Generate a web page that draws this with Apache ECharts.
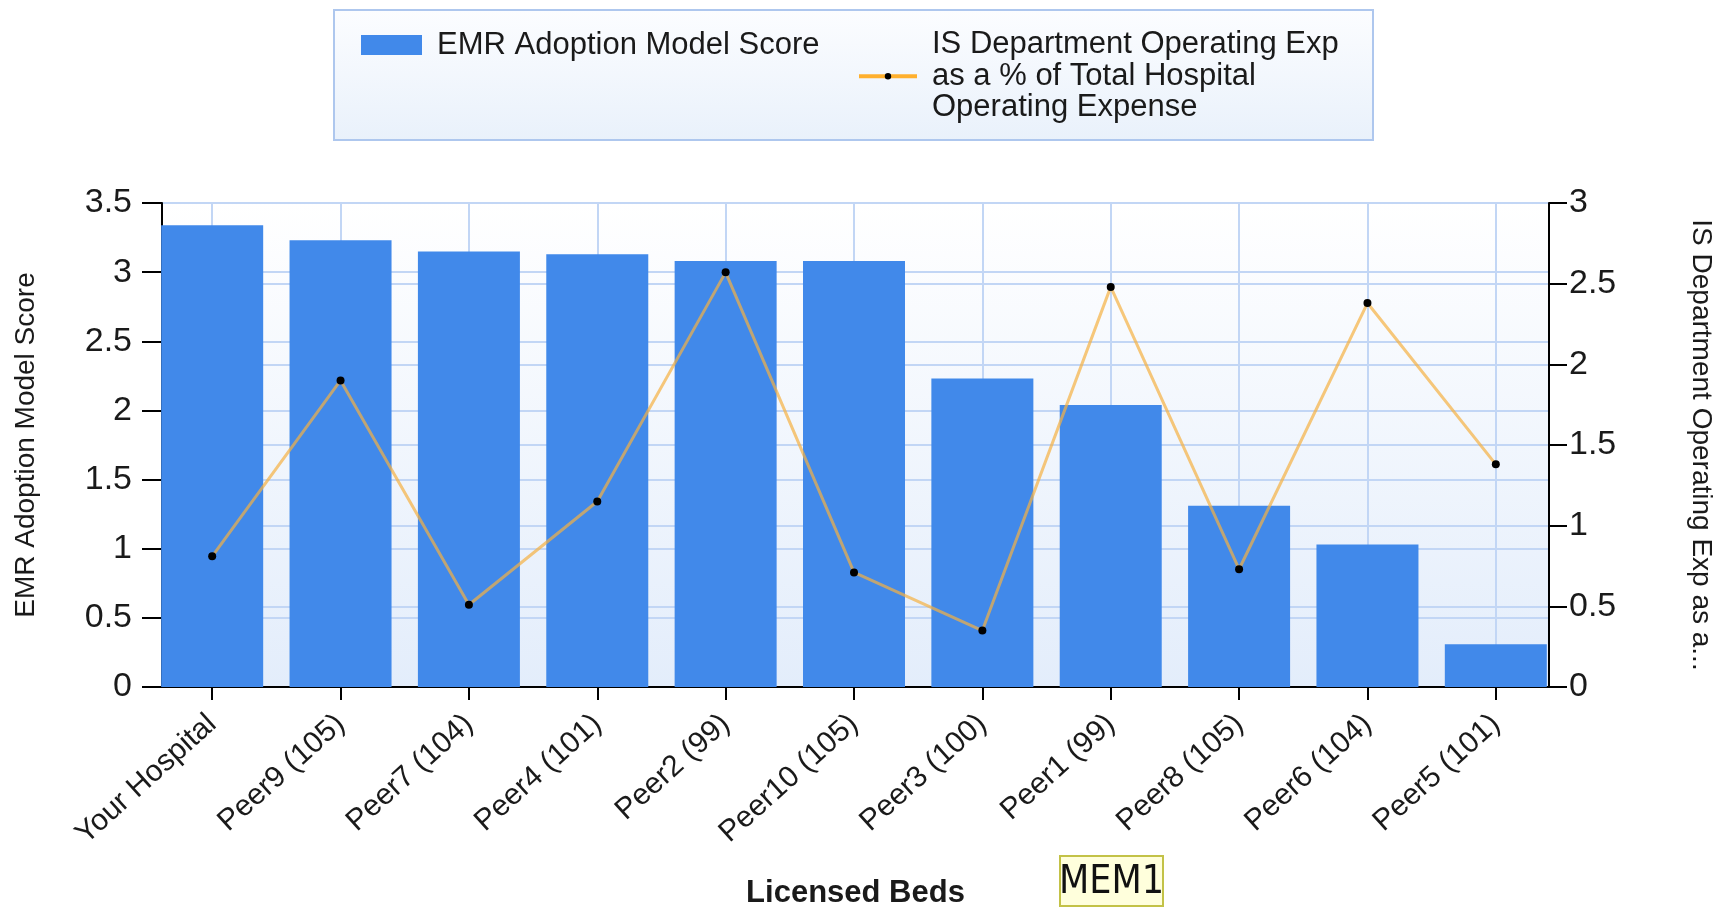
<!DOCTYPE html>
<html>
<head>
<meta charset="utf-8">
<script src="https://cdn.jsdelivr.net/npm/echarts/dist/echarts.min.js"></script>
<style>
html,body{margin:0;padding:0;background:#fff;}
#chart{width:1732px;height:916px;}
</style>
</head>
<body>
<div id="chart"></div>
<script>
var categories = ['Your Hospital', 'Peer9 (105)', 'Peer7 (104)', 'Peer4 (101)', 'Peer2 (99)', 'Peer10 (105)', 'Peer3 (100)', 'Peer1 (99)', 'Peer8 (105)', 'Peer6 (104)', 'Peer5 (101)'];
var emrScores = [3.34, 3.23, 3.15, 3.13, 3.08, 3.08, 2.23, 2.04, 1.31, 1.03, 0.31];
var isExpPct = [0.81, 1.90, 0.51, 1.15, 2.57, 0.71, 0.35, 2.48, 0.73, 2.38, 1.38];
var barName = 'EMR Adoption Model Score';
var lineName = 'IS Department Operating Exp\nas a % of Total Hospital\nOperating Expense';
var leftAxisName = 'EMR Adoption Model Score';
var rightAxisName = 'IS Department Operating Exp as a...';
var xAxisName = 'Licensed Beds';

var FONT = '"Liberation Sans", Arial, sans-serif';
var TXT = '#1a1a1a';
var GRIDC = '#c2d6f5';

var chart = echarts.init(document.getElementById('chart'), null, {renderer: 'canvas'});
chart.setOption({
  backgroundColor: '#ffffff',
  animation: false,
  textStyle: {fontFamily: FONT, color: TXT},
  graphic: [
    {
      type: 'rect', z: 0,
      shape: {x: 334, y: 10, width: 1039, height: 130},
      style: {
        fill: new echarts.graphic.LinearGradient(0, 0, 0, 1, [
          {offset: 0, color: '#fcfdff'}, {offset: 1, color: '#e9f1fb'}
        ]),
        stroke: '#aec7ee', lineWidth: 2
      }
    },
    {
      type: 'rect', z: 0,
      shape: {x: 1060, y: 856, width: 103, height: 50},
      style: {fill: '#ffffdc', stroke: '#c3c247', lineWidth: 2}
    },
    {
      type: 'text', z: 1,
      x: 1111.5, y: 883,
      style: {
        text: 'MEM1', fill: '#111', fontSize: 39,
        fontFamily: '"Liberation Sans Narrow", "Arial Narrow", "DejaVu Sans Condensed", sans-serif',
        align: 'center', verticalAlign: 'middle'
      }
    }
  ],
  legend: [
    {
      left: 361, top: 29, padding: 0,
      itemWidth: 61, itemHeight: 20,
      textStyle: {fontSize: 31, lineHeight: 32, color: TXT, fontFamily: FONT, padding: [0, 0, 0, 10]},
      data: [{name: barName, icon: 'rect', itemStyle: {color: '#4189ea'}}],
      selectedMode: false
    },
    {
      left: 857, top: 29, padding: 0,
      itemWidth: 58, itemHeight: 8,
      textStyle: {fontSize: 31, lineHeight: 31.5, color: TXT, fontFamily: FONT, padding: [0, 0, 0, 10]},
      data: [{name: lineName, itemStyle: {color: '#000'}, lineStyle: {color: '#ffb02e', width: 4, opacity: 1}}],
      selectedMode: false
    }
  ],
  grid: [
    {left: 148, top: 203, width: 1412, height: 484, containLabel: false},
    {
      left: 162, top: 203, width: 1387, height: 484, containLabel: false,
      show: true, borderColor: '#8eb1ec', borderWidth: 2,
      backgroundColor: new echarts.graphic.LinearGradient(0, 0, 0, 1, [
        {offset: 0, color: '#ffffff'}, {offset: 1, color: '#e3edfb'}
      ])
    }
  ],
  xAxis: [
    {
      type: 'category', gridIndex: 0, data: categories, boundaryGap: true,
      axisLine: {show: false},
      axisTick: {show: true, alignWithLabel: true, interval: 0, length: 13, lineStyle: {color: '#000', width: 2}},
      axisLabel: {interval: 0, rotate: 42, margin: 33, fontSize: 30, color: TXT, fontFamily: FONT},
      splitLine: {show: true, alignWithLabel: true, interval: 0, lineStyle: {color: GRIDC, width: 2}}
    },
    {
      type: 'value', gridIndex: 1, min: 0, max: 1,
      axisLine: {show: true, lineStyle: {color: '#000', width: 2}},
      axisTick: {show: false}, axisLabel: {show: false}, splitLine: {show: false},
      name: xAxisName, nameLocation: 'middle', nameGap: 191,
      nameTextStyle: {fontSize: 31, fontWeight: 'bold', color: TXT, fontFamily: FONT}
    }
  ],
  yAxis: [
    {type: 'value', gridIndex: 0, min: 0, max: 3.5, interval: 0.5, show: false, splitLine: {show: false}},
    {type: 'value', gridIndex: 0, min: 0, max: 3, interval: 0.5, show: false, splitLine: {show: false}},
    {
      type: 'value', gridIndex: 1, position: 'left', min: 0, max: 3.5, interval: 0.5,
      axisLine: {show: true, lineStyle: {color: '#000', width: 2}},
      axisTick: {show: true, length: 20, lineStyle: {color: '#000', width: 2}},
      axisLabel: {margin: 30, fontSize: 34, color: TXT, fontFamily: FONT},
      splitLine: {show: true, lineStyle: {color: GRIDC, width: 2}},
      name: leftAxisName, nameLocation: 'middle', nameGap: 122,
      nameTextStyle: {fontSize: 28, color: TXT, fontFamily: FONT}
    },
    {
      type: 'value', gridIndex: 1, position: 'right', min: 0, max: 3, interval: 0.5,
      axisLine: {show: true, lineStyle: {color: '#000', width: 2}},
      axisTick: {show: true, length: 18, lineStyle: {color: '#000', width: 2}},
      axisLabel: {margin: 20, fontSize: 34, color: TXT, fontFamily: FONT},
      splitLine: {show: true, lineStyle: {color: GRIDC, width: 2}},
      name: rightAxisName, nameLocation: 'middle', nameGap: 138, nameRotate: -90,
      nameTextStyle: {fontSize: 28, color: TXT, fontFamily: FONT}
    }
  ],
  series: [
    {
      name: barName, type: 'bar', xAxisIndex: 0, yAxisIndex: 0,
      data: emrScores, barWidth: 102,
      itemStyle: {color: '#4189ea'}
    },
    {
      name: lineName, type: 'line', xAxisIndex: 0, yAxisIndex: 1,
      data: isExpPct,
      symbol: 'circle', symbolSize: 8,
      itemStyle: {color: '#000'},
      lineStyle: {color: '#f5b041', width: 3, opacity: 0.7},
      z: 3
    }
  ]
});
</script>
</body>
</html>
